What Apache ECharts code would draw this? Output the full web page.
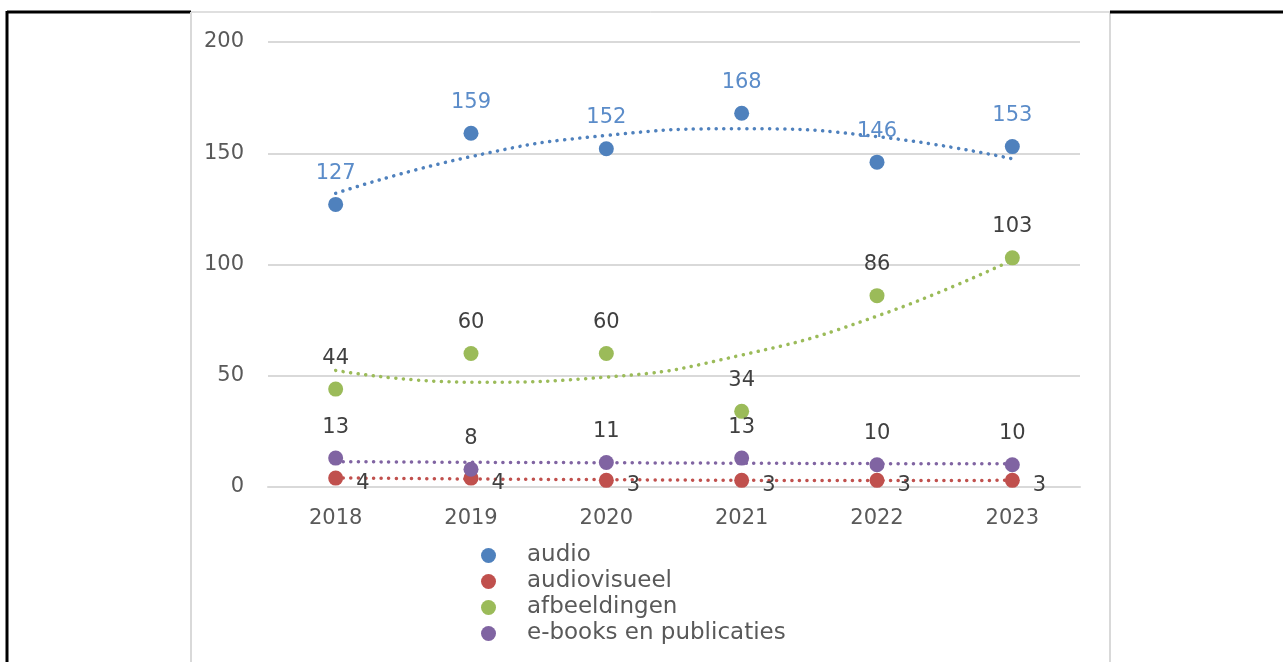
<!DOCTYPE html>
<html>
<head>
<meta charset="utf-8">
<script src="https://cdn.jsdelivr.net/npm/echarts@6/dist/echarts.min.js"></script>
<style>
  html, body { margin: 0; padding: 0; background: #fff; }
  #chart { width: 1283px; height: 662px; }
</style>
</head>
<body>
<div id="chart"></div>
<script>
// jaren op de x-as
var jaren = ['2018', '2019', '2020', '2021', '2022', '2023'];

// aantallen per soort
var audio = [127, 159, 152, 168, 146, 153];
var audiovisueel = [4, 4, 3, 3, 3, 3];
var afbeeldingen = [44, 60, 60, 34, 86, 103];
var ebooks = [13, 8, 11, 13, 10, 10];

// trendlijnen
var trendAudio = [132, 148.5, 158, 161, 157.5, 147.5];
var trendAudiovisueel = [4.1, 3.6, 3.3, 3.0, 2.9, 3.0];
var trendAfbeeldingen = [52.4, 47.1, 49.4, 59.3, 76.8, 102];
var trendEbooks = [11.4, 11.1, 10.9, 10.7, 10.5, 10.4];

var kleuren = ['#4F81BD', '#C0504D', '#9BBB59', '#8064A2'];
var font = '"DejaVu Sans", sans-serif';

function punten(naam, data, kleur, labelKleur, pos) {
  var label = {
    show: true,
    position: pos,
    distance: 13,
    color: labelKleur,
    fontSize: 21,
    fontFamily: font
  };
  if (pos === 'right') {
    label.distance = 13;
    label.offset = [0, 5];
  }
  return {
    name: naam,
    type: 'scatter',
    data: data,
    symbol: 'circle',
    symbolSize: 15,
    itemStyle: { color: kleur, opacity: 1 },
    label: label,
    z: 3
  };
}

function trend(data, kleur) {
  return {
    type: 'line',
    data: data,
    smooth: true,
    showSymbol: false,
    silent: true,
    lineStyle: { color: kleur, width: 3.5, type: [0.1, 7.5], cap: 'round' },
    z: 2
  };
}

var chart = echarts.init(document.getElementById('chart'));

var option = {
  animation: false,
  backgroundColor: '#fff',
  grid: { left: 268, right: 203, top: 42, bottom: 175 },
  xAxis: {
    type: 'category',
    data: jaren,
    boundaryGap: true,
    axisLine: { lineStyle: { color: '#d9d9d9', width: 2 } },
    axisTick: { show: false },
    axisLabel: { color: '#595959', fontSize: 21, fontFamily: font, margin: 21 }
  },
  yAxis: {
    type: 'value',
    min: 0,
    max: 200,
    interval: 50,
    axisLine: { show: false },
    axisTick: { show: false },
    axisLabel: { color: '#595959', fontSize: 21, fontFamily: font, margin: 24 },
    splitLine: { lineStyle: { color: '#d9d9d9', width: 2 } }
  },
  legend: {
    orient: 'vertical',
    left: 476,
    top: 539,
    itemWidth: 15,
    itemHeight: 15,
    itemGap: 3,
    icon: 'circle',
    data: ['audio', 'audiovisueel', 'afbeeldingen', 'e-books en publicaties'],
    textStyle: { color: '#595959', fontSize: 23, fontFamily: font, lineHeight: 20, padding: [0, 0, 0, 26] }
  },
  series: [
    trend(trendAudio, kleuren[0]),
    trend(trendAudiovisueel, kleuren[1]),
    trend(trendAfbeeldingen, kleuren[2]),
    trend(trendEbooks, kleuren[3]),
    punten('audio', audio, kleuren[0], '#5B8CC9', 'top'),
    punten('audiovisueel', audiovisueel, kleuren[1], '#404040', 'right'),
    punten('afbeeldingen', afbeeldingen, kleuren[2], '#404040', 'top'),
    punten('e-books en publicaties', ebooks, kleuren[3], '#404040', 'top')
  ],
  graphic: [
    // tabelranden rond de grafiek
    { type: 'line', shape: { x1: 7, y1: 12, x2: 191, y2: 12 }, style: { stroke: '#000', lineWidth: 3 } },
    { type: 'line', shape: { x1: 7, y1: 11, x2: 7, y2: 662 }, style: { stroke: '#000', lineWidth: 3 } },
    { type: 'line', shape: { x1: 191, y1: 12, x2: 1110, y2: 12 }, style: { stroke: '#bfbfbf', lineWidth: 1 } },
    { type: 'line', shape: { x1: 191, y1: 12, x2: 191, y2: 662 }, style: { stroke: '#d9d9d9', lineWidth: 2 } },
    { type: 'line', shape: { x1: 1110, y1: 12, x2: 1110, y2: 662 }, style: { stroke: '#d9d9d9', lineWidth: 2 } },
    { type: 'line', shape: { x1: 1110, y1: 12, x2: 1283, y2: 12 }, style: { stroke: '#000', lineWidth: 3 } }
  ]
};

chart.setOption(option);
</script>
</body>
</html>
